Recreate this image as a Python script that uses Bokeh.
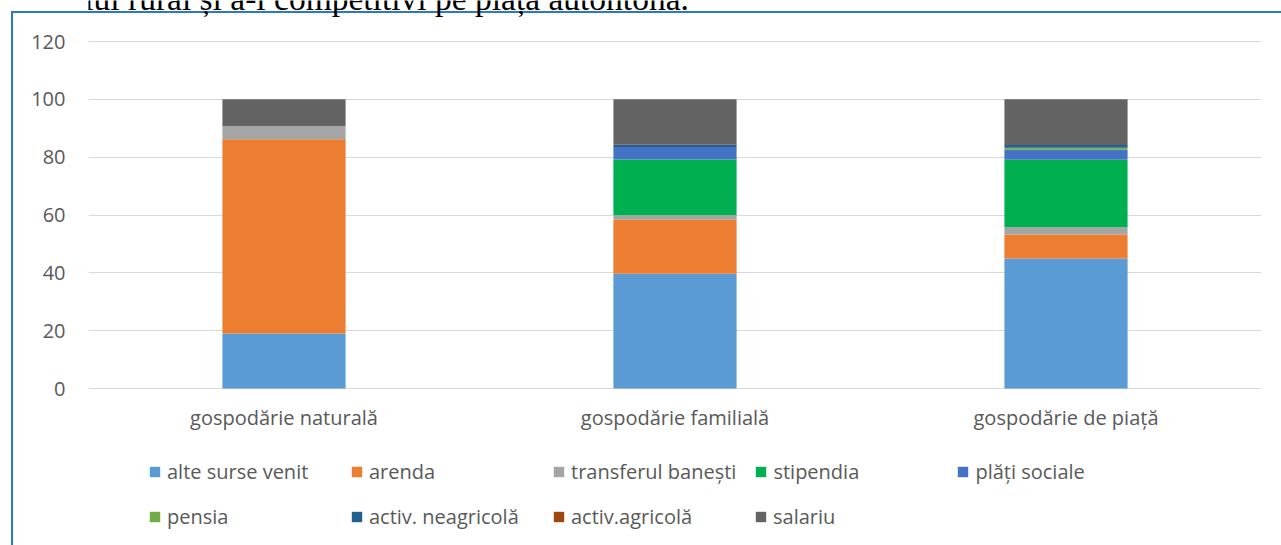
from bokeh.plotting import figure
from bokeh.models import (ColumnDataSource, FactorRange, Legend, LegendItem,
                          Label, FixedTicker, Range1d)
from bokeh.core.properties import value
from bokeh.embed import file_html
from bokeh.resources import INLINE

categories = ["gospodărie naturală", "gospodărie familială", "gospodărie de piață"]
series = ["alte surse venit", "arenda", "transferul banești", "stipendia",
          "plăți sociale", "pensia", "activ. neagricolă", "activ.agricolă", "salariu"]
alte_surse_venit = [19.0, 39.7, 45.0]
arenda = [67.2, 18.7, 8.3]
transferul_banesti = [4.5, 1.5, 2.5]
stipendia = [0.0, 19.3, 23.3]
plati_sociale = [0.0, 4.3, 3.5]
pensia = [0.0, 0.0, 0.7]
activ_neagricola = [0.0, 0.8, 0.9]
activ_agricola = [0.0, 0.0, 0.0]
salariu = [9.3, 15.7, 15.8]
y_ticks = [0, 20, 40, 60, 80, 100, 120]
header_text = "mediului rural și a-l competitivi pe piața autohtonă."

colors = ["#5B9BD5", "#ED7D31", "#A5A5A5", "#00B050", "#4472C4",
          "#70AD47", "#255E91", "#9E480E", "#636363"]

keys = ["s%d" % i for i in range(len(series))]
values = [alte_surse_venit, arenda, transferul_banesti, stipendia, plati_sociale,
          pensia, activ_neagricola, activ_agricola, salariu]
data = {"cat": categories}
for k, v in zip(keys, values):
    data[k] = v
source = ColumnDataSource(data)

FONT = "Open Sans"
GRAY = "#595959"
BLUE = "#2B78C5"

# plot area spans the full page height; the space above 120 holds the cut-off
# header line, the space below 0 the category labels and the legend rows
p = figure(width=1281, height=545, output_backend="svg", toolbar_location=None,
           x_range=FactorRange(*categories, range_padding=0),
           y_range=Range1d(-54.29, 134.18),
           min_border_left=88, min_border_right=20, min_border_top=0,
           min_border_bottom=0, tools="")
p.outline_line_color = None
p.background_fill_color = None
p.border_fill_color = None
# blue frame of the document box (left and top edges), painted behind the
# transparent canvas
p.styles = {"background": ("linear-gradient(%s, %s) 11px 11px / 2px 2000px no-repeat, "
                           "linear-gradient(%s, %s) 11px 11px / 3000px 2px no-repeat, "
                           "#ffffff") % (BLUE, BLUE, BLUE, BLUE)}

renderers = p.vbar_stack(keys, x="cat", width=0.315, source=source,
                         color=colors, line_color=None)

# category labels under the bars
p.text(x=categories, y=[-10.0] * len(categories), text=categories,
       text_font=value(FONT), text_font_size="20px", text_color=GRAY,
       text_align="center", text_baseline="alphabetic")

# axes
p.xaxis.visible = False
p.yaxis.ticker = FixedTicker(ticks=y_ticks)
ax = p.yaxis[0]
ax.axis_line_color = None
ax.major_tick_line_color = None
ax.minor_tick_line_color = None
ax.major_tick_out = 0
ax.major_tick_in = 0
ax.major_label_text_font = FONT
ax.major_label_text_font_size = "20px"
ax.major_label_text_color = GRAY
ax.major_label_standoff = 23
p.xgrid.grid_line_color = None
p.ygrid.grid_line_color = "#D9D9D9"
p.ygrid.grid_line_width = 1

# legend: two rows (five + four entries)
def make_legend(idx, loc):
    items = [LegendItem(label=series[i], renderers=[renderers[i]]) for i in idx]
    return Legend(items=items, orientation="horizontal", location=loc,
                  padding=0, margin=0, spacing=18, label_width=165,
                  glyph_width=13, glyph_height=13, label_standoff=6,
                  label_text_font=FONT, label_text_font_size="20px",
                  label_text_color=GRAY, border_line_color=None,
                  background_fill_alpha=0)

p.add_layout(make_legend([0, 1, 2, 3, 4], (60, 60)), "center")
p.add_layout(make_legend([5, 6, 7, 8], (60, 15)), "center")

# cut-off header line of the document page
p.add_layout(Label(x=-88, y=547, x_units="screen", y_units="screen",
                   text=header_text, text_font="Liberation Serif",
                   text_font_size="33.5px", text_color="black",
                   text_baseline="alphabetic"))

open("out.html", "w").write(file_html(p, INLINE))
